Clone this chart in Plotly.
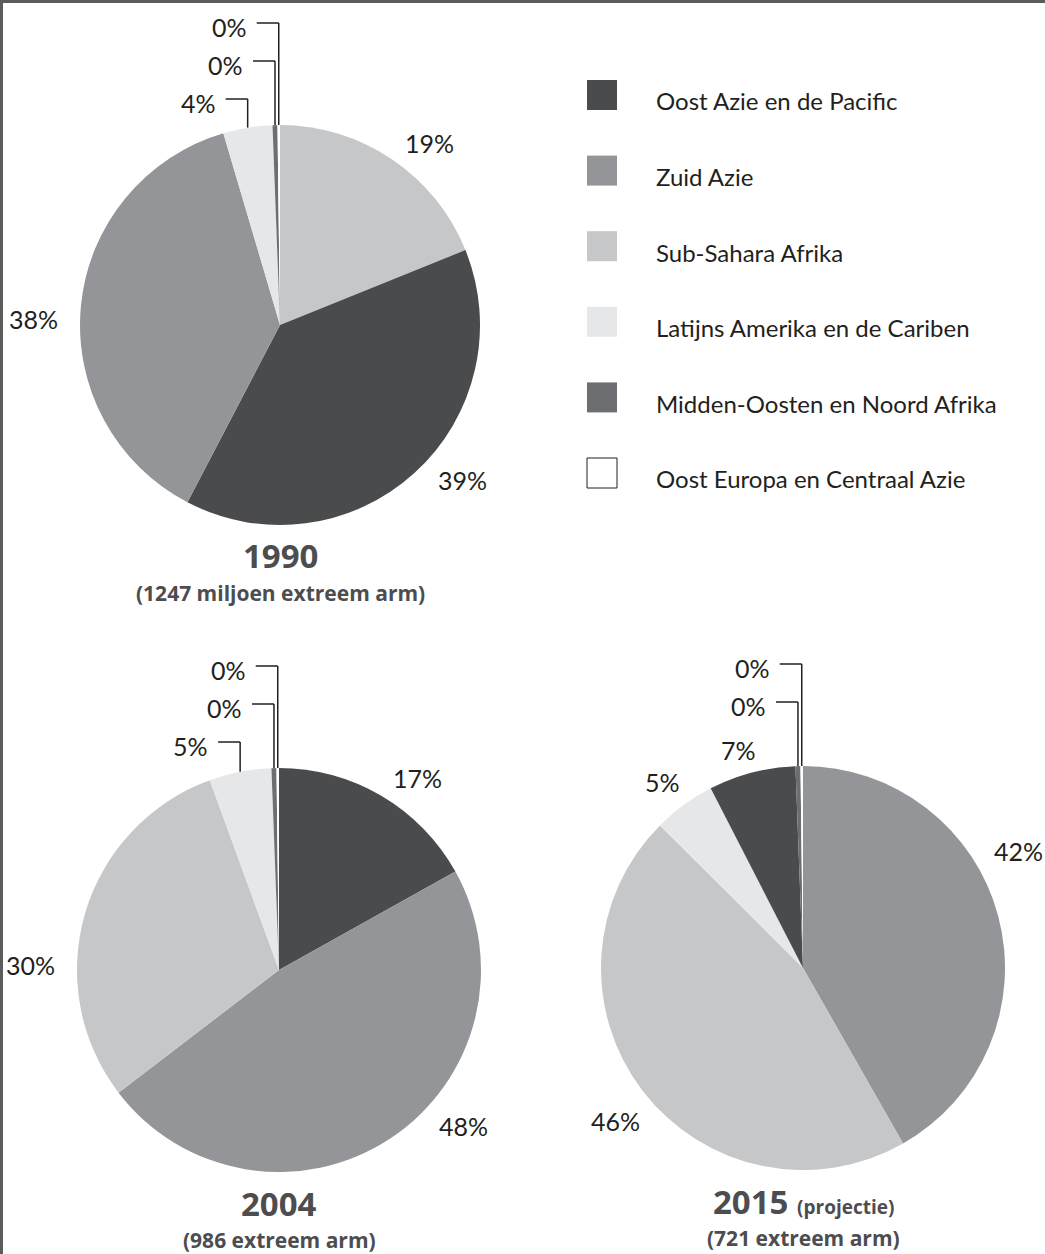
import math
import plotly.graph_objects as go

# ---------------- data ----------------
categories = ["Oost Azie en de Pacific", "Zuid Azie", "Sub-Sahara Afrika",
              "Latijns Amerika en de Cariben", "Midden-Oosten en Noord Afrika",
              "Oost Europa en Centraal Azie"]
colors = ["#4a4b4d", "#939598", "#c6c7c8", "#e6e7e8", "#6d6e71", "#ffffff"]

# share of the extreme poor (%), in the category order above
share_1990 = [39, 38, 19, 4, 0.4, 0.2]
share_2004 = [17, 48, 30, 5, 0.4, 0.2]
share_2015 = [7, 42, 46, 5, 0.4, 0.2]

# slice order, clockwise from 12 o'clock
order_1990 = ["Sub-Sahara Afrika", "Oost Azie en de Pacific", "Zuid Azie",
              "Latijns Amerika en de Cariben", "Midden-Oosten en Noord Afrika",
              "Oost Europa en Centraal Azie"]
order_2004 = ["Oost Azie en de Pacific", "Zuid Azie", "Sub-Sahara Afrika",
              "Latijns Amerika en de Cariben", "Midden-Oosten en Noord Afrika",
              "Oost Europa en Centraal Azie"]
order_2015 = ["Zuid Azie", "Sub-Sahara Afrika", "Latijns Amerika en de Cariben",
              "Oost Azie en de Pacific", "Midden-Oosten en Noord Afrika",
              "Oost Europa en Centraal Azie"]

years = ["1990", "2004", "2015"]
year_notes = ["", "", "(projectie)"]
subtitles = ["(1247 miljoen extreem arm)", "(986 extreem arm)", "(721 extreem arm)"]

# ---------------- layout ----------------
W, H = 1045, 1254
FONT = "Lato"
TFONT = "Open Sans"
TXT = "#231f20"
TITLE = "#4d4d4f"

def px(x):
    return x / W

def py(y):
    return 1 - y / H

pies = [
    dict(share=share_1990, order=order_1990, cx=280, cy=325, r=200, leaders=3,
         nudge={"Oost Azie en de Pacific": -3, "Zuid Azie": -4}),
    dict(share=share_2004, order=order_2004, cx=279, cy=970, r=202, leaders=3,
         nudge={"Zuid Azie": -12, "Sub-Sahara Afrika": -15}),
    dict(share=share_2015, order=order_2015, cx=803, cy=968, r=202, leaders=2,
         nudge={"Zuid Azie": -17, "Sub-Sahara Afrika": -6,
                "Latijns Amerika en de Cariben": 3, "Oost Azie en de Pacific": 3}),
]

fig = go.Figure()
shapes = []
annotations = []

for i, p in enumerate(pies):
    vals = [p["share"][categories.index(c)] for c in p["order"]]
    cols = [colors[categories.index(c)] for c in p["order"]]
    cx, cy, r = p["cx"], p["cy"], p["r"]
    fig.add_trace(go.Pie(
        labels=p["order"], values=vals, sort=False, direction="clockwise",
        rotation=0, textinfo="none", hoverinfo="label+percent",
        marker=dict(colors=cols, line=dict(width=0)), showlegend=False,
        domain=dict(x=[px(cx - r), px(cx + r)], y=[py(cy + r), py(cy - r)]),
    ))
    total = sum(vals)
    cum = 0
    n = len(vals)
    for j, (c, v) in enumerate(zip(p["order"], vals)):
        mid = (cum + v / 2) / total * 360
        cum += v
        pct = "%d%%" % round(v / total * 100)
        k = n - 1 - j
        if k < p["leaders"]:
            a = math.radians(mid)
            ex = cx + r * math.sin(a)
            ey = cy - r * math.cos(a)
            ly = cy - r - (102 - 38 * k)
            shapes.append(dict(type="line", xref="paper", yref="paper",
                               x0=px(ex), y0=py(ey), x1=px(ex), y1=py(ly),
                               line=dict(color=TXT, width=1.5)))
            shapes.append(dict(type="line", xref="paper", yref="paper",
                               x0=px(ex), y0=py(ly), x1=px(ex - 22), y1=py(ly),
                               line=dict(color=TXT, width=1.5)))
            annotations.append(dict(x=px(ex - 30), y=py(ly + 4), xref="paper", yref="paper",
                                    text=pct, showarrow=False, xanchor="right",
                                    yanchor="middle",
                                    font=dict(family=FONT, size=25, color=TXT)))
        else:
            a = math.radians(mid + p["nudge"].get(c, 0))
            d = r * 1.1
            lx = cx + d * math.sin(a)
            ly = cy - d * math.cos(a)
            annotations.append(dict(x=px(lx), y=py(ly), xref="paper", yref="paper",
                                    text=pct, showarrow=False,
                                    xanchor="left" if math.sin(a) >= 0 else "right",
                                    yanchor="middle",
                                    font=dict(family=FONT, size=25, color=TXT)))
    # titles
    ttl = "<b>%s</b>" % years[i]
    if year_notes[i]:
        ttl += " <b><span style='font-size:19px'>%s</span></b>" % year_notes[i]
    annotations.append(dict(x=px(cx), y=py(cy + r + 31), xref="paper", yref="paper",
                            text=ttl, showarrow=False, xanchor="center", yanchor="middle",
                            font=dict(family=TFONT, size=33, color=TITLE)))
    annotations.append(dict(x=px(cx), y=py(cy + r + 68), xref="paper", yref="paper",
                            text="<b>%s</b>" % subtitles[i], showarrow=False,
                            xanchor="center", yanchor="middle",
                            font=dict(family=TFONT, size=21, color=TITLE)))

# legend (custom)
for j, (c, col) in enumerate(zip(categories, colors)):
    yc = 95 + 75.6 * j
    shapes.append(dict(type="rect", xref="paper", yref="paper",
                       x0=px(587), x1=px(617), y0=py(yc + 15), y1=py(yc - 15),
                       fillcolor=col,
                       line=dict(color=TXT if col == "#ffffff" else col,
                                 width=1 if col == "#ffffff" else 0)))
    annotations.append(dict(x=px(654), y=py(yc + 6), xref="paper", yref="paper",
                            text=c, showarrow=False, xanchor="left", yanchor="middle",
                            font=dict(family=FONT, size=24, color=TXT)))

# frame lines (top and left)
shapes.append(dict(type="line", xref="paper", yref="paper", x0=0, x1=1,
                   y0=py(1.5), y1=py(1.5), line=dict(color="#5c5c5c", width=3)))
shapes.append(dict(type="line", xref="paper", yref="paper", x0=px(1.5), x1=px(1.5),
                   y0=0, y1=1, line=dict(color="#5c5c5c", width=3)))

fig.update_layout(
    width=W, height=H, margin=dict(l=0, r=0, t=0, b=0),
    paper_bgcolor="white", plot_bgcolor="white",
    shapes=shapes, annotations=annotations, showlegend=False,
    font=dict(family=FONT, color=TXT),
)

fig.write_html("out.html", config={"displayModeBar": False},
               post_script="document.body.style.margin='0';document.body.style.overflow='hidden';")
